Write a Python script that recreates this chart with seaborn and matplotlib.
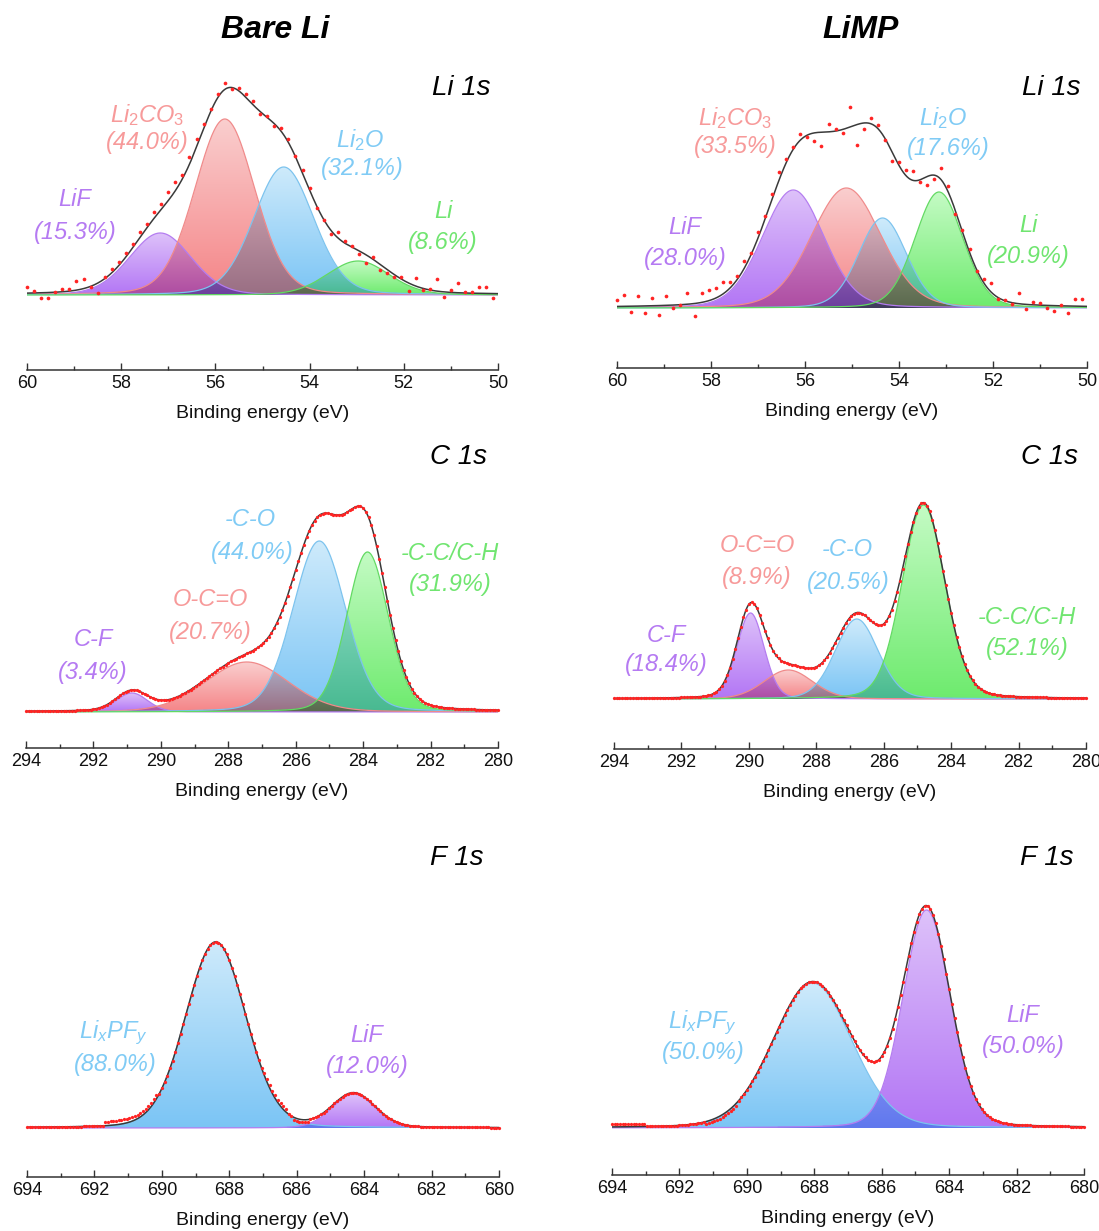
import numpy as np
import matplotlib
matplotlib.use("Agg")
import matplotlib.pyplot as plt
from matplotlib.ticker import MultipleLocator
import seaborn as sns

# ------------------------------------------------------------------
# DATA (intensities in arbitrary units)
# ------------------------------------------------------------------
# Bare Li - Li 1s
li_bare_labels = ["LiF", "Li2CO3", "Li2O", "Li"]
li_bare_pct = ["15.3", "44.0", "32.1", "8.6"]
li_bare_center = [57.17, 55.80, 54.55, 52.97]
li_bare_height = [62, 176, 128, 34]
li_bare_fwhm = [1.55, 1.50, 1.50, 1.55]
li_bare_resid = [6, 2, -5, -5, 0, 3, 2, 9, 10, -1, -10, 2, 4, 3, 4, 3, 5, 4, 6, 5,
                 8, 9, 4, 7, 8, 5, 3, 4, 6, -1, 3, 3, 4, -2, 2, -2, 4, 3, 1, 3,
                 2, -2, 0, -4, 6, 2, 1, -3, -8, 2, -6, -3, -2, 2, -8, 8, -2, 1, 12, -5,
                 2, 10, 1, 1, 6, 6, -4]

# LiMP - Li 1s
li_limp_labels = ["LiF", "Li2CO3", "Li2O", "Li"]
li_limp_pct = ["28.0", "33.5", "17.6", "20.9"]
li_limp_center = [56.25, 55.12, 54.35, 53.15]
li_limp_height = [118, 120, 90, 116]
li_limp_fwhm = [1.55, 1.75, 1.20, 1.20]
li_limp_resid = [6, 11, -6, 10, -7, 8, -9, 9, -3, 0, 11, -13, 9, 11, 10, 12, 6, 4, 8, 2,
                 6, 3, 5, 8, 4, 2, 6, -2, -8, -14, 8, 2, -4, 20, -20, -6, 6, 4, -2, -9,
                 3, 6, 9, -2, -8, -4, 12, 6, -3, 2, 3, -2, 4, 9, -2, 1, -1, 11, -5, 3,
                 2, -3, -5, 1, -7, 7, 7]

# Bare Li - C 1s
c_bare_labels = ["C-F", "O-C=O", "-C-O", "-C-C/C-H"]
c_bare_pct = ["3.4", "20.7", "44.0", "31.9"]
c_bare_center = [290.86, 287.45, 285.30, 283.87]
c_bare_height = [19, 50, 171, 160]
c_bare_fwhm = [1.10, 2.90, 1.85, 1.45]

# LiMP - C 1s
c_limp_labels = ["C-F", "O-C=O", "-C-O", "-C-C/C-H"]
c_limp_pct = ["18.4", "8.9", "20.5", "52.1"]
c_limp_center = [289.95, 288.83, 286.80, 284.82]
c_limp_height = [86, 29, 80, 194]
c_limp_fwhm = [0.95, 1.70, 1.50, 1.50]

# Bare Li - F 1s
f_bare_labels = ["LixPFy", "LiF"]
f_bare_pct = ["88.0", "12.0"]
f_bare_center = [688.40, 684.31]
f_bare_height = [186, 34]
f_bare_fwhm = [2.10, 1.50]
# (from eV, to eV, offset of measured points from the fit)
f_bare_dev = [(691.7, 690.1, 4.0), (687.0, 686.3, 3.0), (686.1, 685.6, -2.5)]

# LiMP - F 1s
f_limp_labels = ["LixPFy", "LiF"]
f_limp_pct = ["50.0", "50.0"]
f_limp_center = [688.05, 684.67]
f_limp_height = [145, 218]
f_limp_fwhm = [2.75, 1.65]
f_limp_dev = [(694.0, 693.0, 2.5), (691.2, 690.3, -2.5)]

# ------------------------------------------------------------------
# STYLE
# ------------------------------------------------------------------
sns.set_theme(style="white")
plt.rcParams["font.family"] = ["Liberation Sans", "DejaVu Sans"]
plt.rcParams["mathtext.fontset"] = "custom"
plt.rcParams["mathtext.it"] = "Liberation Sans:italic"
plt.rcParams["mathtext.rm"] = "Liberation Sans"
plt.rcParams["mathtext.sf"] = "Liberation Sans"

PAL = {  # (top colour, bottom colour) of the gradient fill
    "purple": ((0.87, 0.76, 0.98), (0.70, 0.46, 0.96)),
    "red": ((0.98, 0.81, 0.81), (0.96, 0.52, 0.53)),
    "blue": ((0.81, 0.92, 0.985), (0.48, 0.77, 0.96)),
    "green": ((0.77, 0.985, 0.77), (0.43, 0.92, 0.43)),
}
EDGE = {"purple": "#B47CF0", "red": "#F08A8A", "blue": "#7CC3EE", "green": "#62DA62"}
TXT = {"purple": "#B57AF2", "red": "#F79A9A", "blue": "#80CBF5", "green": "#70E570"}
MATH = {"Li2CO3": r"$\mathit{Li_2CO_3}$", "Li2O": r"$\mathit{Li_2O}$",
        "LixPFy": r"$\mathit{Li_xPF_y}$"}
OVERLAP_K = 0.72

W, H = 1099, 1231
AXH = 320
fig = plt.figure(figsize=(W / 100, H / 100), dpi=100)


def pv(x, c, h, w, m):
    g = np.exp(-4 * np.log(2) * (x - c) ** 2 / w ** 2)
    lo = 1.0 / (1 + 4 * (x - c) ** 2 / w ** 2)
    return h * ((1 - m) * g + m * lo)


def fx(px):
    return px / W


def fy(py):
    return 1 - py / H


def panel(x0, x1, spine, base, emax, emin, centers, heights, fwhms, colors, m,
          pts_e, resid, dot_s, title, title_xy, labels, pcts, lab_pos):
    ax = fig.add_axes([fx(x0), fy(spine), (x1 - x0) / W, AXH / H])
    ybot = -(spine - base)
    xs = np.linspace(emin, emax, 1400)
    comps = [pv(xs, c, h, w, m) for c, h, w in zip(centers, heights, fwhms)]
    env = np.sum(comps, axis=0)

    # gradient fills; overlapping regions darken each other (softened multiply)
    NX, NY = 1100, 520
    ytop = max(heights) * 1.05
    gx = np.linspace(emin, emax, NX)
    gy = np.linspace(0, ytop, NY)
    Y = gy[:, None]
    rgb = np.ones((NY, NX, 3))
    covered = np.zeros((NY, NX), dtype=bool)
    for c, h, w, key in zip(centers, heights, fwhms, colors):
        prof = pv(gx, c, h, w, m)[None, :]
        mask = (Y <= prof) & (prof > 0.6)
        t = np.clip(Y / h, 0, 1)[..., None]
        top, bot = PAL[key]
        col = np.array(bot) * (1 - t) + np.array(top) * t
        soft = 1 - OVERLAP_K * (1 - col)
        factor = np.where(covered[..., None], soft, col)
        rgb = np.where(mask[..., None], rgb * factor, rgb)
        covered |= mask
    ax.imshow(np.dstack([rgb, covered.astype(float)]), extent=(emin, emax, 0, ytop),
              origin="lower", aspect="auto", interpolation="bilinear", zorder=1)

    for comp, key in zip(comps, colors):
        sns.lineplot(x=xs, y=comp, ax=ax, color=EDGE[key], lw=0.9, sort=False,
                     estimator=None, zorder=2)
    sns.lineplot(x=xs, y=env, ax=ax, color="#3a3a3a", lw=1.1, sort=False,
                 estimator=None, zorder=3)
    fit_pts = np.sum([pv(pts_e, c, h, w, m) for c, h, w in zip(centers, heights, fwhms)], axis=0)
    sns.scatterplot(x=pts_e, y=fit_pts + np.asarray(resid), ax=ax, color="#FF2424",
                    s=dot_s, linewidth=0, zorder=4, clip_on=False)

    ax.set_xlim(emax, emin)
    ax.set_ylim(ybot, ybot + AXH)
    ax.set_yticks([])
    for s in ["top", "left", "right"]:
        ax.spines[s].set_visible(False)
    ax.spines["bottom"].set_color("#333333")
    ax.spines["bottom"].set_linewidth(1.1)
    ax.set_xticks(np.arange(emin, emax + 0.1, 2))
    ax.set_xticklabels([f"{v:g}" for v in np.arange(emin, emax + 0.1, 2)])
    ax.xaxis.set_minor_locator(MultipleLocator(1))
    ax.tick_params(axis="x", which="major", direction="in", length=5, width=1.0,
                   labelsize=13, pad=3.5, color="#333333", labelcolor="#111111", bottom=True)
    ax.tick_params(axis="x", which="minor", direction="in", length=3, width=1.0,
                   color="#333333", bottom=True)
    ax.set_xlabel("Binding energy (eV)", fontsize=14, color="#111111")
    ax.xaxis.set_label_coords(0.5, -43.5 / AXH)
    ax.xaxis.label.set_va("center")
    ax.set_facecolor("none")

    fig.text(fx(title_xy[0]), fy(title_xy[1]), title, ha="right", va="center",
             fontsize=20, style="italic", color="black")
    for lab, pct, key, (p1, p2) in zip(labels, pcts, colors, lab_pos):
        fig.text(fx(p1[0]), fy(p1[1]), MATH.get(lab, lab), ha="center", va="center",
                 fontsize=17, style="italic", color=TXT[key])
        fig.text(fx(p2[0]), fy(p2[1]), f"({pct}%)", ha="center", va="center",
                 fontsize=17, style="italic", color=TXT[key])
    return ax


li_e = 60 - 0.15 * np.arange(len(li_bare_resid))


def dense(emin, emax, devs):
    e = np.arange(emax, emin - 0.001, -0.08)
    r = np.zeros_like(e)
    for a, b, d in devs:
        r[(e <= a) & (e >= b)] = d
    return e, r


cols4 = ["purple", "red", "blue", "green"]

panel(27, 498, 370, 295, 60, 50, li_bare_center, li_bare_height, li_bare_fwhm, cols4, 0.15,
      li_e, li_bare_resid, 7, "Li 1s", (490, 88), li_bare_labels, li_bare_pct,
      [((75, 200), (75, 232)), ((147, 115), (147, 142)), ((360, 140), (362, 168)),
       ((443, 212), (443, 243))])

panel(617, 1087, 368, 308, 60, 50, li_limp_center, li_limp_height, li_limp_fwhm, cols4, 0.15,
      li_e, li_limp_resid, 7, "Li 1s", (1080, 88), li_limp_labels, li_limp_pct,
      [((685, 227), (685, 259)), ((735, 118), (735, 147)), ((943, 118), (948, 148)),
       ((1028, 225), (1028, 257))])

e3, r3 = dense(280, 294, [])
panel(26, 498, 748, 712, 294, 280, c_bare_center, c_bare_height, c_bare_fwhm, cols4, 0.15,
      e3, r3, 5.5, "C 1s", (487, 457), c_bare_labels, c_bare_pct,
      [((93, 640), (93, 672)), ((210, 600), (210, 632)), ((250, 520), (252, 552)),
       ((450, 553), (450, 585))])

e4, r4 = dense(280, 294, [])
panel(614, 1086, 749, 699, 294, 280, c_limp_center, c_limp_height, c_limp_fwhm, cols4, 0.15,
      e4, r4, 5.5, "C 1s", (1078, 457), c_limp_labels, c_limp_pct,
      [((666, 635), (666, 665)), ((757, 545), (757, 577)), ((847, 550), (848, 583)),
       ((1027, 617), (1027, 648))])

e5, r5 = dense(680, 694, f_bare_dev)
panel(27, 499, 1177, 1128, 694, 680, f_bare_center, f_bare_height, f_bare_fwhm,
      ["blue", "purple"], 0.12, e5, r5, 5.5, "F 1s", (483, 858), f_bare_labels, f_bare_pct,
      [((113, 1033), (115, 1065)), ((367, 1035), (367, 1067))])

e6, r6 = dense(680, 694, f_limp_dev)
panel(612, 1084, 1175, 1128, 694, 680, f_limp_center, f_limp_height, f_limp_fwhm,
      ["blue", "purple"], 0.12, e6, r6, 5.5, "F 1s", (1073, 858), f_limp_labels, f_limp_pct,
      [((702, 1023), (703, 1052)), ((1023, 1015), (1023, 1047))])

fig.text(fx(275), fy(30), "Bare Li", ha="center", va="center", fontsize=23,
         fontweight="bold", style="italic", color="black")
fig.text(fx(861), fy(30), "LiMP", ha="center", va="center", fontsize=23,
         fontweight="bold", style="italic", color="black")

fig.savefig("out.png", dpi=100)
